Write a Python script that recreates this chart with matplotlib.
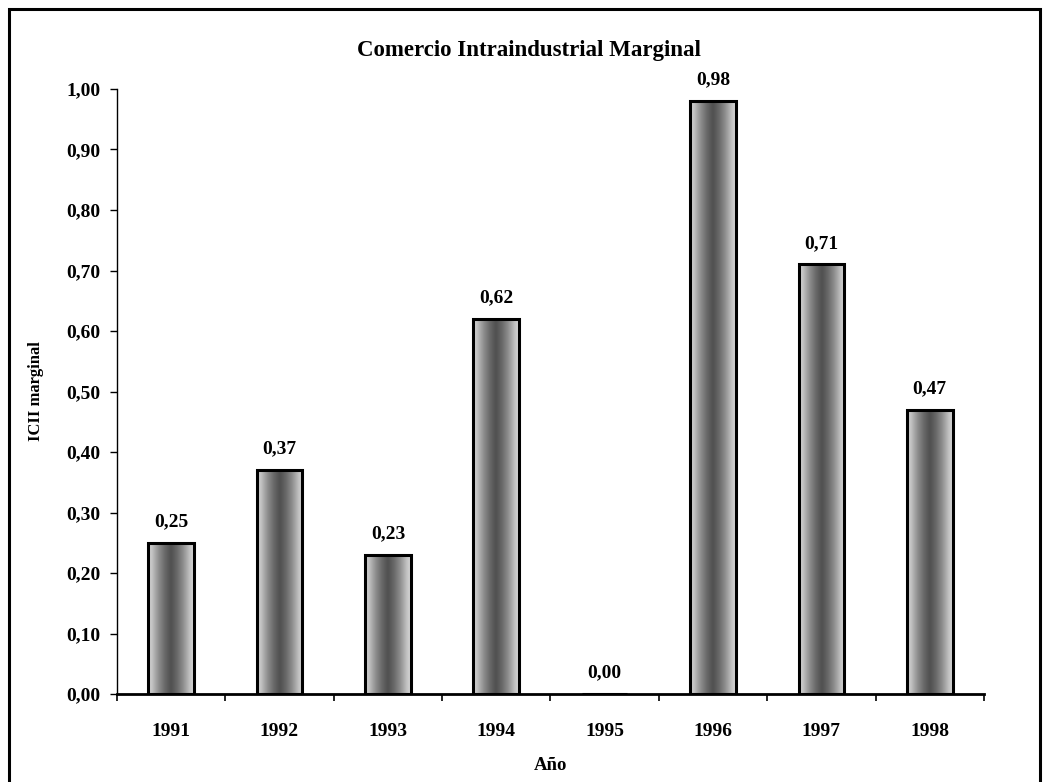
import matplotlib.pyplot as plt
import matplotlib.patches as mpatches
import matplotlib.ticker as mticker
import numpy as np

plt.rcParams['font.family'] = ['Liberation Serif', 'DejaVu Serif']

years = ['1991', '1992', '1993', '1994', '1995', '1996', '1997', '1998']
icii = [0.25, 0.37, 0.23, 0.62, 0.00, 0.98, 0.71, 0.47]
labels = ['0,25', '0,37', '0,23', '0,62', '0,00', '0,98', '0,71', '0,47']

fig = plt.figure(figsize=(10.44, 7.82), dpi=100)
ax = fig.add_axes([0.112, 0.1125, 0.8305, 0.7737])

x = np.arange(len(years))
bars = ax.bar(x, icii, width=0.42, facecolor='none', edgecolor='black',
              linewidth=2.2, zorder=3)

# shading: lighter edges, darker middle, like the scanned stipple
grad = 1 - np.abs(np.linspace(-1, 1, 64))[None, :] ** 1.3
for b in bars:
    if b.get_height() <= 0:
        continue
    im = ax.imshow(grad, cmap='Greys', vmin=-0.5, vmax=1.5, aspect='auto',
                   extent=(b.get_x(), b.get_x() + b.get_width(), 0, b.get_height()),
                   zorder=2.9, interpolation='bilinear')
    im.set_clip_path(b)

for xi, v, lab in zip(x, icii, labels):
    ax.annotate(lab, (xi, v), xytext=(0, 9), textcoords='offset points',
                ha='center', va='bottom', fontsize=14, fontweight='bold')

ax.set_xlim(-0.5, len(years) - 0.5)
ax.set_ylim(0, 1.0)
ax.set_xticks(x)
ax.set_xticklabels(years, fontsize=14, fontweight='bold')
ax.xaxis.set_minor_locator(mticker.FixedLocator(np.arange(-0.5, len(years), 1)))
ax.tick_params(axis='x', which='major', length=0, pad=21)
ax.tick_params(axis='x', which='minor', length=5, width=1.2, direction='out')

ax.set_yticks(np.arange(0, 1.01, 0.1))
ax.yaxis.set_major_formatter(mticker.FuncFormatter(lambda v, p: f'{v:.2f}'.replace('.', ',')))
ax.tick_params(axis='y', length=5, width=1, direction='out', pad=7, labelsize=14)
for t in ax.get_yticklabels():
    t.set_fontweight('bold')

ax.spines['top'].set_visible(False)
ax.spines['right'].set_visible(False)
ax.spines['left'].set_linewidth(1.0)
ax.spines['bottom'].set_linewidth(2.0)

ax.set_ylabel('ICII marginal', fontsize=12, fontweight='bold', labelpad=16)
ax.set_xlabel('Año', fontsize=13.5, fontweight='bold', labelpad=12)

fig.text(0.507, 0.935, 'Comercio Intraindustrial Marginal', ha='center', va='center',
         fontsize=16.5, fontweight='bold')

# frame around the whole chart
fig.patches.append(mpatches.Rectangle((0.009, -0.02), 0.987, 1.008, transform=fig.transFigure,
                                      fill=False, edgecolor='black', linewidth=2.2))

fig.savefig('out.png', dpi=100)
